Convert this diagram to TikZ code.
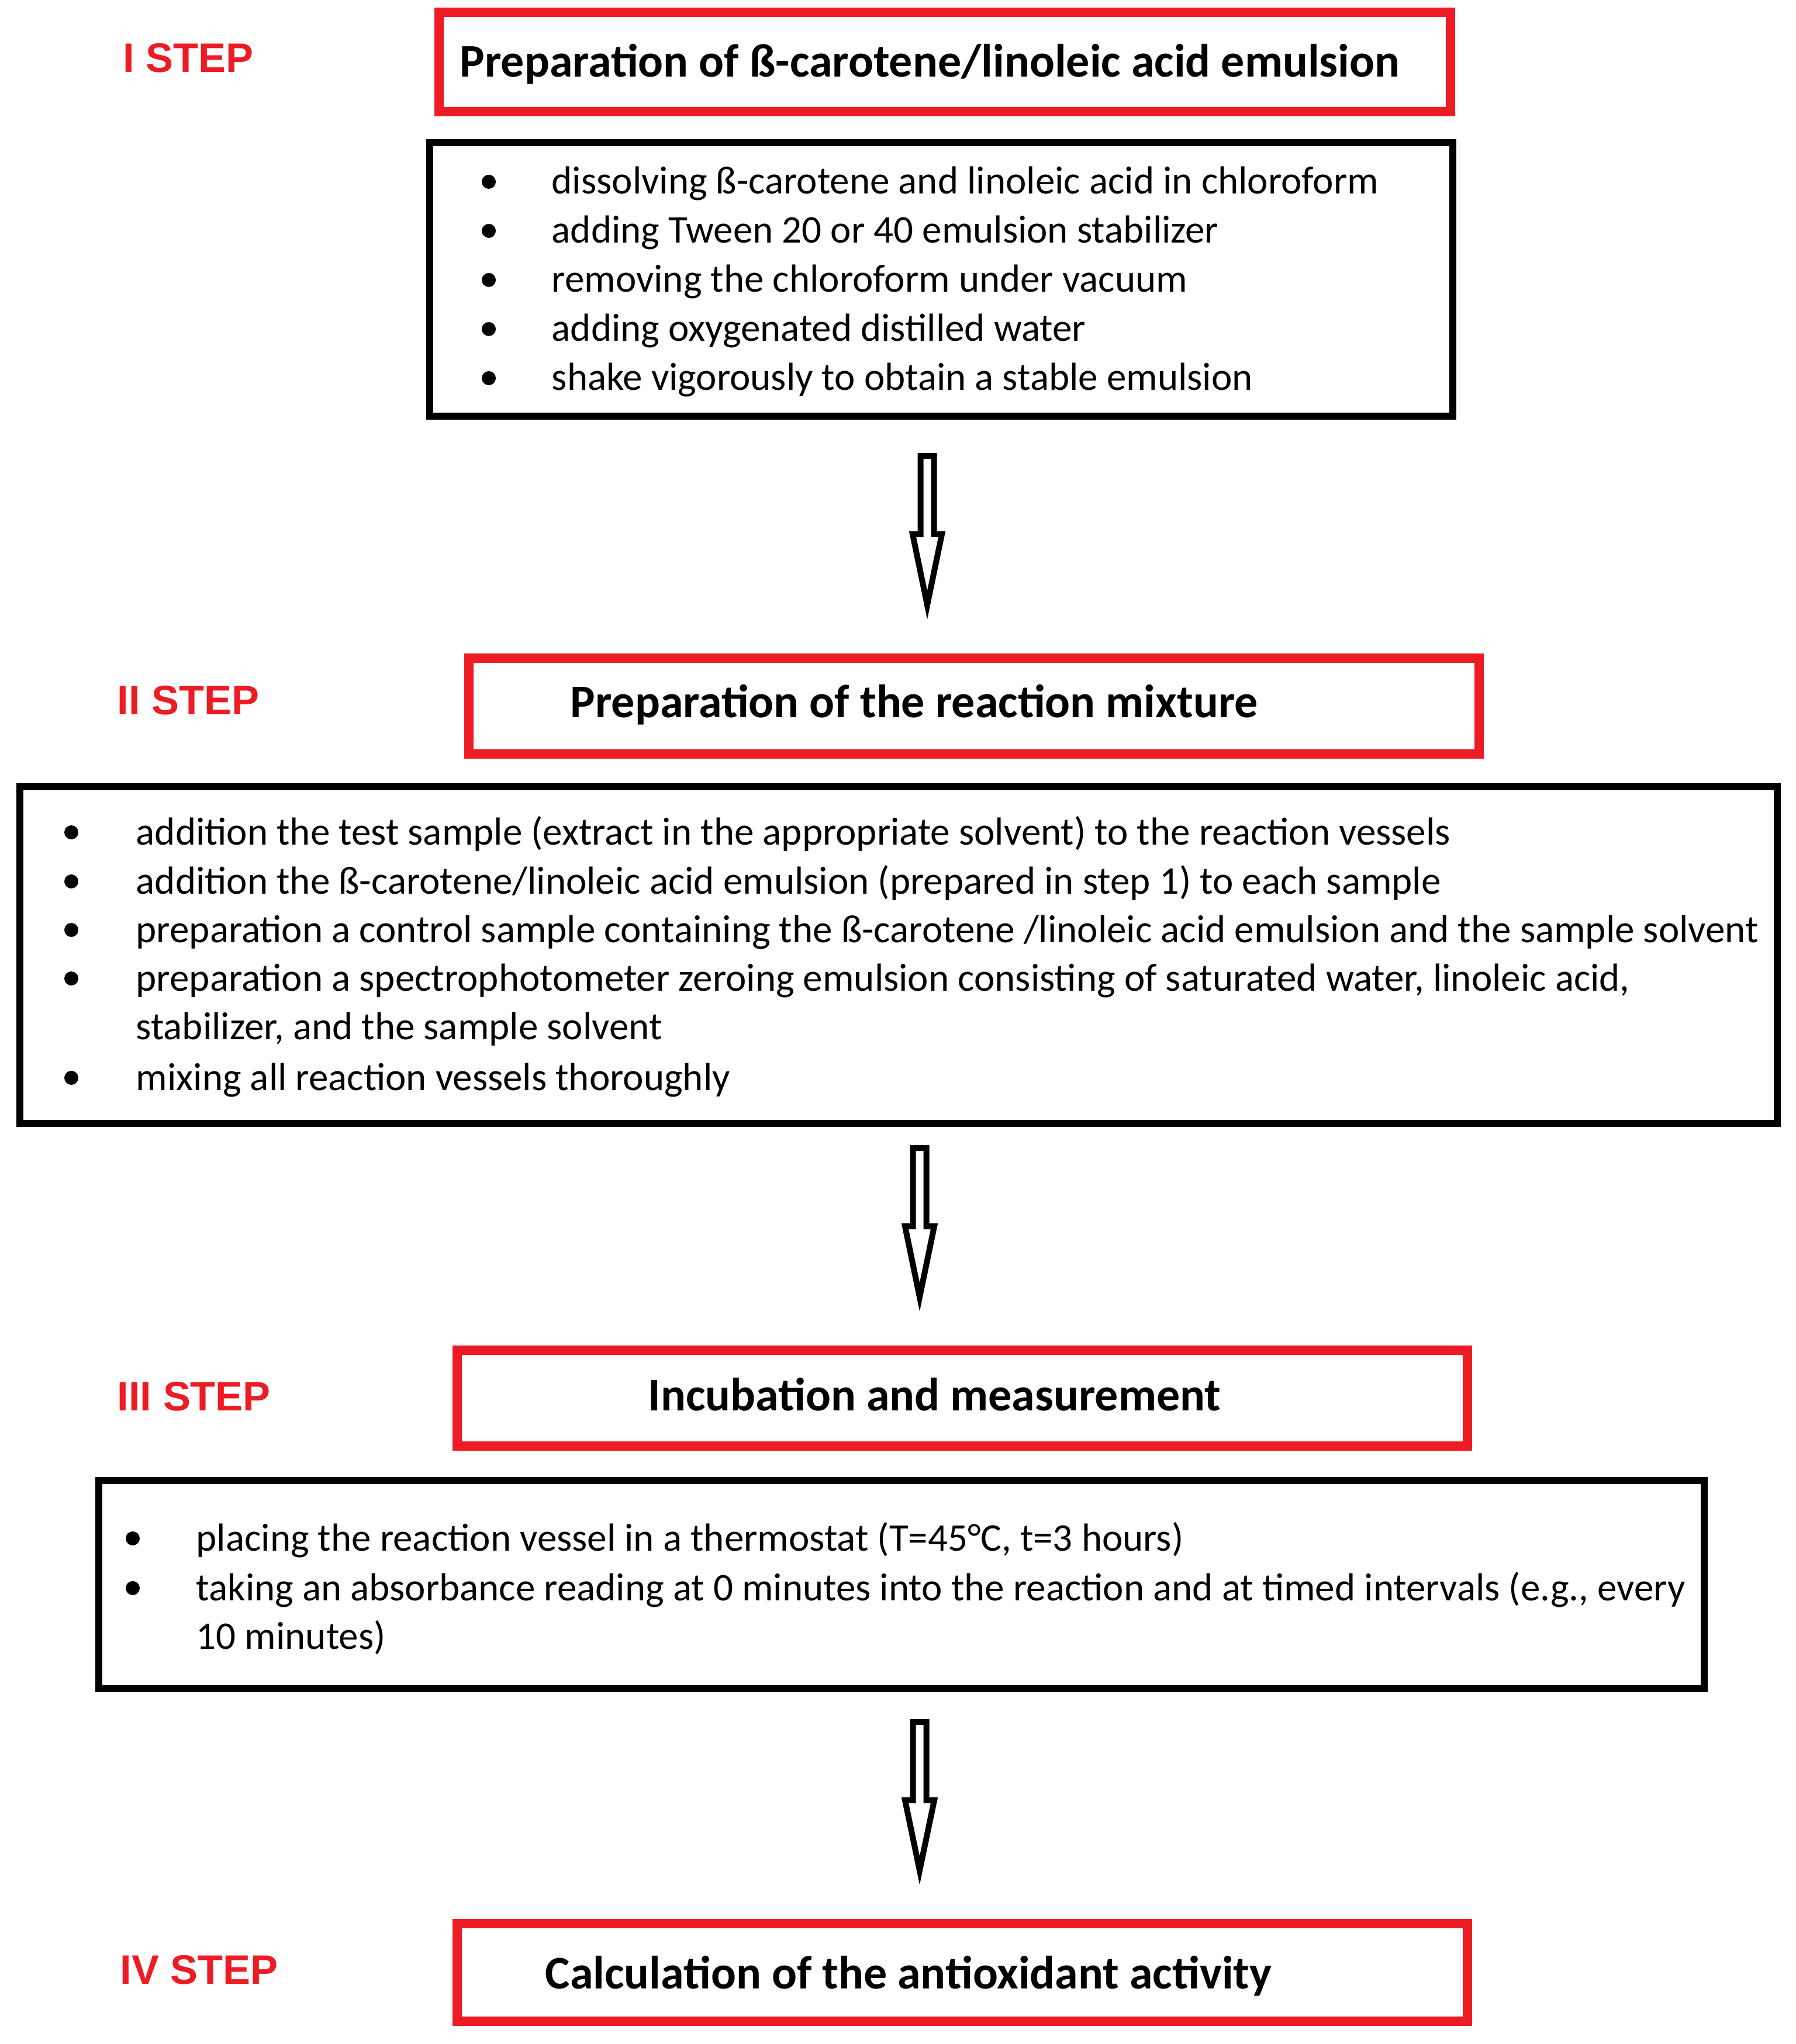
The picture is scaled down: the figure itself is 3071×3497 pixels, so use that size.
\documentclass[tikz,border=0pt]{standalone}
\usepackage{fontspec}
\setmainfont{Carlito}
\newfontfamily\stepfont{Liberation Sans}
\usetikzlibrary{calc,fit}
\definecolor{stepred}{RGB}{237,28,36}
\newcommand{\blockarrow}[2]{%
  \draw[blockarrowstyle] ($(#1)+(-11.5,0)$) -- ($(#1)+(11.5,0)$) -- ($(#1)+(11.5,134)$)
    -- ($(#1)+(25,134)$) -- (#2) -- ($(#1)+(-25,134)$) -- ($(#1)+(-11.5,134)$) -- cycle;}
\begin{document}
\begin{tikzpicture}[x=0.25pt,y=-0.25pt,
  redbox/.style={draw=stepred, line width=4pt, inner sep=0pt},
  blackbox/.style={draw=black, line width=3pt, inner sep=0pt},
  steplabel/.style={anchor=base west, inner sep=0pt, text=stepred,
    font=\stepfont\bfseries\fontsize{17.6}{20}\selectfont},
  titletext/.style={anchor=base west, inner sep=0pt,
    font=\bfseries\fontsize{20}{24}\selectfont},
  itemtext/.style={anchor=base west, inner sep=0pt,
    font=\fontsize{16.75}{20}\selectfont},
  bulletmark/.style={circle, fill=black, inner sep=0pt, minimum size=6pt},
  blockarrowstyle/.style={draw=black, line width=2.5pt, fill=white, line join=miter}
]
\useasboundingbox[fill=white] (0,0) rectangle (3071,3497);

% ---------- STEP I ----------
\node[steplabel] (s1) at (210,124) {I STEP};
\node[redbox, fit={(751,21) (2481,191)}] (r1) {};
\node[titletext] (t1) at (786,132) {Preparation of ß-carotene/linoleic acid emulsion};
\node[blackbox, fit={(735,244) (2485,712)}] (k1) {};
\node[bulletmark] (p11) at (836,311) {};
\node[bulletmark] (p12) at (836,395) {};
\node[bulletmark] (p13) at (836,479) {};
\node[bulletmark] (p14) at (836,563) {};
\node[bulletmark] (p15) at (836,647) {};
\node[itemtext] (i11) at (943,332) {dissolving ß-carotene and linoleic acid in chloroform};
\node[itemtext] (i12) at (943,416) {adding Tween 20 or 40 emulsion stabilizer};
\node[itemtext] (i13) at (943,500) {removing the chloroform under vacuum};
\node[itemtext] (i14) at (943,584) {adding oxygenated distilled water};
\node[itemtext] (i15) at (943,668) {shake vigorously to obtain a stable emulsion};

\coordinate (a1s) at (1586,780);
\coordinate (a1e) at (1586,1035);
\blockarrow{a1s}{a1e}

% ---------- STEP II ----------
\node[steplabel] (s2) at (200,1222) {II STEP};
\node[redbox, fit={(802,1126) (2530,1290)}] (r2) {};
\node[titletext] (t2) at (975,1227) {Preparation of the reaction mixture};
\node[blackbox, fit={(34,1346) (3040,1922)}] (k2) {};
\node[bulletmark] (p21) at (122,1424) {};
\node[bulletmark] (p22) at (122,1508) {};
\node[bulletmark] (p23) at (122,1591) {};
\node[bulletmark] (p24) at (122,1674) {};
\node[bulletmark] (p25) at (122,1844) {};
\node[itemtext] (i21) at (232,1445) {addition the test sample (extract in the appropriate solvent) to the reaction vessels};
\node[itemtext] (i22) at (232,1529) {addition the ß-carotene/linoleic acid emulsion (prepared in step 1) to each sample};
\node[itemtext] (i23) at (232,1612) {preparation a control sample containing the ß-carotene /linoleic acid emulsion and the sample solvent};
\node[itemtext] (i24) at (232,1695) {preparation a spectrophotometer zeroing emulsion consisting of saturated water, linoleic acid,};
\node[itemtext] (i24b) at (232,1778) {stabilizer, and the sample solvent};
\node[itemtext] (i25) at (232,1865) {mixing all reaction vessels thoroughly};

\coordinate (a2s) at (1573,1964);
\coordinate (a2e) at (1573,2219);
\blockarrow{a2s}{a2e}

% ---------- STEP III ----------
\node[steplabel] (s3) at (200,2413) {III STEP};
\node[redbox, fit={(782,2310) (2510,2474)}] (r3) {};
\node[titletext] (t3) at (1108,2413) {Incubation and measurement};
\node[blackbox, fit={(169,2533) (2915,2889)}] (k3) {};
\node[bulletmark] (p31) at (227,2632) {};
\node[bulletmark] (p32) at (227,2717) {};
\node[itemtext] (i31) at (335,2653) {placing the reaction vessel in a thermostat (T=45°C, t=3 hours)};
\node[itemtext] (i32) at (335,2738) {taking an absorbance reading at 0 minutes into the reaction and at timed intervals (e.g., every};
\node[itemtext] (i32b) at (335,2821) {10 minutes)};

\coordinate (a3s) at (1573,2946);
\coordinate (a3e) at (1573,3200);
\blockarrow{a3s}{a3e}

% ---------- STEP IV ----------
\node[steplabel] (s4) at (205,3394) {IV STEP};
\node[redbox, fit={(782,3291) (2510,3458)}] (r4) {};
\node[titletext] (t4) at (932,3402) {Calculation of the antioxidant activity};
\end{tikzpicture}
\end{document}
